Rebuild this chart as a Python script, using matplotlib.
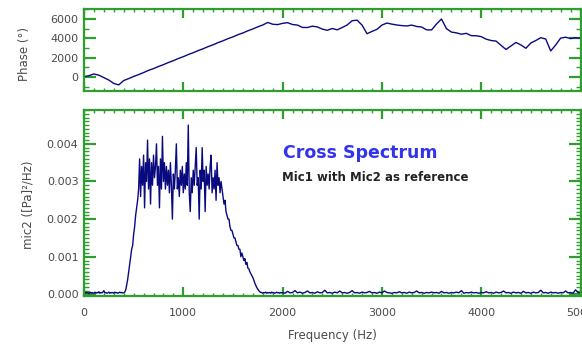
import numpy as np
import matplotlib
matplotlib.use("Agg")
import matplotlib.pyplot as plt
from matplotlib.ticker import MultipleLocator, FormatStrFormatter

# phase trace, one value every 50 Hz from 0 to 5000 Hz
phase_step = 50
phase_deg = [
    50, 150, 330, 200, -50, -300, -650, -800, -350, -150,
    70, 260, 470, 700, 880, 1100, 1290, 1510, 1700, 1920,
    2110, 2330, 2520, 2740, 2930, 3150, 3340, 3560, 3750, 3970,
    4150, 4380, 4560, 4780, 4970, 5190, 5380, 5640, 5460, 5420,
    5550, 5620, 5430, 5370, 5130, 5120, 5260, 5180, 4960, 4830,
    5020, 4880, 5120, 5380, 5820, 5880, 5370, 4480, 4720, 4930,
    5370, 5580, 5470, 5380, 5320, 5280, 5370, 5230, 5170, 4880,
    4870, 5480, 6000, 5000, 4650, 4570, 4430, 4520, 4280, 4270,
    4180, 3920, 3780, 3720, 3280, 2850, 3220, 3580, 3320, 2980,
    3520, 3780, 4070, 3930, 2700, 3320, 4030, 4120, 3980, 4070,
    4000,
]

# cross spectrum, every 10 Hz from 0 to 1990 Hz
spec_lo_step = 10
spec_lo = [
    # 0 - 390 Hz
    0.00005, 0.00003, 0.00006, 0.00004, 0.00005, 0.00002, 0.00006, 0.00004, 0.00005, 0.00003,
    0.00004, 0.00006, 0.00003, 0.00005, 0.00004, 0.00007, 0.00003, 0.00005, 0.00004, 0.00006,
    0.00010, 0.00004, 0.00005, 0.00003, 0.00004, 0.00006, 0.00003, 0.00005, 0.00004, 0.00005,
    0.00003, 0.00006, 0.00004, 0.00005, 0.00003, 0.00004, 0.00006, 0.00004, 0.00005, 0.00004,
    # 400 - 790 Hz
    0.00004, 0.00006, 0.00012, 0.00025, 0.0004, 0.0006, 0.0008, 0.0010, 0.0012, 0.0013,
    0.0016, 0.0018, 0.0021, 0.0023, 0.0025, 0.0028, 0.0036, 0.0026, 0.0034, 0.0029,
    0.0037, 0.0023, 0.0035, 0.0030, 0.0041, 0.0028, 0.0036, 0.0024, 0.0035, 0.0029,
    0.0037, 0.0031, 0.0034, 0.0040, 0.0029, 0.0034, 0.0023, 0.0036, 0.0028, 0.0042,
    # 800 - 1190 Hz
    0.0030, 0.0035, 0.0028, 0.0034, 0.0029, 0.0033, 0.0027, 0.0035, 0.0029, 0.0020,
    0.0032, 0.0028, 0.0033, 0.0040, 0.0028, 0.0031, 0.0026, 0.0033, 0.0029, 0.0034,
    0.0027, 0.0032, 0.0028, 0.0035, 0.0029, 0.0045, 0.0027, 0.0022, 0.0031, 0.0027,
    0.0033, 0.0029, 0.0034, 0.0039, 0.0029, 0.0031, 0.0020, 0.0033, 0.0028, 0.0039,
    # 1200 - 1590 Hz
    0.0030, 0.0033, 0.0022, 0.0034, 0.0029, 0.0032, 0.0028, 0.0034, 0.0037, 0.0027,
    0.0031, 0.0028, 0.0033, 0.0025, 0.0035, 0.0029, 0.0031, 0.0027, 0.0030, 0.0028,
    0.0026, 0.0024, 0.0025, 0.0022, 0.0021, 0.0020, 0.0020, 0.0018, 0.0017, 0.0017,
    0.0016, 0.0015, 0.0015, 0.0014, 0.0013, 0.0013, 0.0012, 0.0012, 0.0010, 0.0011,
    # 1600 - 1990 Hz
    0.0010, 0.0009, 0.00095, 0.0008, 0.00085, 0.0007, 0.00068, 0.0006, 0.00055, 0.0005,
    0.00045, 0.00038, 0.0003, 0.00024, 0.00018, 0.00014, 0.0001, 0.00007, 0.00005, 0.00005,
    0.00003, 0.00005, 0.00004, 0.00006, 0.00003, 0.00005, 0.00004, 0.00005, 0.00003, 0.00006,
    0.00004, 0.00005, 0.00003, 0.00004, 0.00006, 0.00004, 0.00005, 0.00003, 0.00005, 0.00004,
]

# cross spectrum, every 25 Hz from 2000 to 5000 Hz
spec_hi_start = 2000
spec_hi_step = 25
spec_hi = [
    0.00005, 0.00003, 0.00008, 0.00004, 0.00005, 0.00010, 0.00004, 0.00006, 0.00003, 0.00005,
    0.00009, 0.00004, 0.00005, 0.00003, 0.00007, 0.00004, 0.00005, 0.00011, 0.00004, 0.00005,
    0.00003, 0.00006, 0.00004, 0.00009, 0.00004, 0.00005, 0.00003, 0.00005, 0.00010, 0.00004,
    0.00005, 0.00003, 0.00006, 0.00004, 0.00005, 0.00008, 0.00004, 0.00005, 0.00003, 0.00006,
    0.00004, 0.00009, 0.00005, 0.00004, 0.00003, 0.00005, 0.00004, 0.00007, 0.00004, 0.00005,
    0.00003, 0.00006, 0.00004, 0.00005, 0.00009, 0.00004, 0.00005, 0.00003, 0.00005, 0.00004,
    0.00006, 0.00004, 0.00005, 0.00003, 0.00008, 0.00004, 0.00005, 0.00003, 0.00005, 0.00004,
    0.00006, 0.00004, 0.00010, 0.00003, 0.00005, 0.00004, 0.00006, 0.00004, 0.00005, 0.00003,
    0.00005, 0.00004, 0.00007, 0.00004, 0.00005, 0.00003, 0.00006, 0.00004, 0.00005, 0.00009,
    0.00004, 0.00005, 0.00003, 0.00006, 0.00004, 0.00005, 0.00003, 0.00008, 0.00004, 0.00005,
    0.00003, 0.00006, 0.00004, 0.00005, 0.00011, 0.00004, 0.00005, 0.00003, 0.00006, 0.00004,
    0.00005, 0.00003, 0.00005, 0.00004, 0.00009, 0.00004, 0.00005, 0.00003, 0.00012, 0.00005,
    0.00004,
]

phase_freq = np.arange(len(phase_deg)) * phase_step
spec_freq = np.concatenate([
    np.arange(len(spec_lo)) * spec_lo_step,
    spec_hi_start + np.arange(len(spec_hi)) * spec_hi_step,
])
spec_val = np.array(spec_lo + spec_hi)

green = "#2f9e2f"
line_col = "#0a0a80"
txt_col = "#4a4a4a"

fig = plt.figure(figsize=(5.82, 3.46), dpi=100)
ax1 = fig.add_axes([84 / 582, 1 - 90.7 / 346, 496.5 / 582, 81.4 / 346])
ax2 = fig.add_axes([84 / 582, 1 - 295.5 / 346, 496.5 / 582, 185.5 / 346])


def style(ax):
    for s in ax.spines.values():
        s.set_color(green)
        s.set_linewidth(1.6)
    ax.tick_params(which="both", direction="in", colors=green, top=True, right=True,
                   labelcolor=txt_col, labelsize=8)
    ax.tick_params(which="major", length=6.5, width=1.6)
    ax.tick_params(which="minor", length=2.5, width=1)
    ax.tick_params(axis="y", which="major", length=8.5)
    ax.tick_params(axis="y", which="minor", length=3.5)
    ax.xaxis.set_major_locator(MultipleLocator(1000))
    ax.xaxis.set_minor_locator(MultipleLocator(100))
    ax.set_xlim(0, 5000)


ax1.plot(phase_freq, phase_deg, color=line_col, lw=1.0)
style(ax1)
ax1.set_ylim(-1400, 7000)
ax1.yaxis.set_major_locator(MultipleLocator(2000))
ax1.yaxis.set_minor_locator(MultipleLocator(1000))
ax1.tick_params(axis="y", pad=4)
ax1.set_xticklabels([])
ax1.set_ylabel("Phase (°)", color=txt_col, fontsize=8.5)
ax1.yaxis.set_label_coords(-0.106, 0.45)

ax2.plot(spec_freq, spec_val, color=line_col, lw=1.0)
style(ax2)
ax2.set_ylim(-0.00003, 0.0049)
ax2.yaxis.set_major_locator(MultipleLocator(0.001))
ax2.yaxis.set_minor_locator(MultipleLocator(0.0001))
ax2.yaxis.set_major_formatter(FormatStrFormatter("%.3f"))
ax2.tick_params(axis="x", pad=9)
ax2.tick_params(axis="y", pad=4)
ax2.set_xlabel("Frequency (Hz)", color=txt_col, fontsize=8.5, labelpad=8)
ax2.set_ylabel("mic2 ([Pa]²/Hz)", color=txt_col, fontsize=8.5)
ax2.yaxis.set_label_coords(-0.099, 0.49)

ax2.text(2000, 0.00375, "Cross Spectrum", color="#3333ee", fontsize=12.5,
         fontweight="bold", va="center", ha="left")
ax2.text(1990, 0.0031, "Mic1 with Mic2 as reference", color="#222222", fontsize=8.5,
         fontweight="bold", va="center", ha="left")

fig.savefig("out.png", dpi=100)
